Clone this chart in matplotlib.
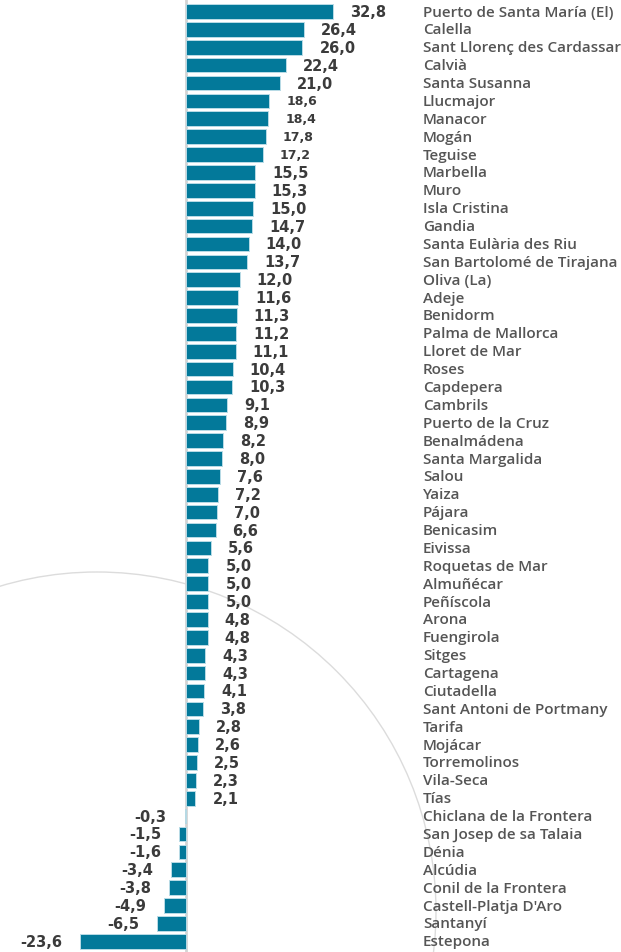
"""Horizontal bar chart: change by municipality."""

import matplotlib
matplotlib.use("Agg")
import matplotlib.pyplot as plt
from matplotlib.patches import Circle
import matplotlib.transforms as mtransforms

municipios = [
    "Puerto de Santa María (El)", "Calella", "Sant Llorenç des Cardassar", "Calvià",
    "Santa Susanna", "Llucmajor", "Manacor", "Mogán", "Teguise", "Marbella", "Muro",
    "Isla Cristina", "Gandia", "Santa Eulària des Riu", "San Bartolomé de Tirajana",
    "Oliva (La)", "Adeje", "Benidorm", "Palma de Mallorca", "Lloret de Mar", "Roses",
    "Capdepera", "Cambrils", "Puerto de la Cruz", "Benalmádena", "Santa Margalida",
    "Salou", "Yaiza", "Pájara", "Benicasim", "Eivissa", "Roquetas de Mar", "Almuñécar",
    "Peñíscola", "Arona", "Fuengirola", "Sitges", "Cartagena", "Ciutadella",
    "Sant Antoni de Portmany", "Tarifa", "Mojácar", "Torremolinos", "Vila-Seca", "Tías",
    "Chiclana de la Frontera", "San Josep de sa Talaia", "Dénia", "Alcúdia",
    "Conil de la Frontera", "Castell-Platja D'Aro", "Santanyí", "Estepona",
]
valores = [
    32.8, 26.4, 26.0, 22.4, 21.0, 18.6, 18.4, 17.8, 17.2, 15.5, 15.3, 15.0, 14.7,
    14.0, 13.7, 12.0, 11.6, 11.3, 11.2, 11.1, 10.4, 10.3, 9.1, 8.9, 8.2, 8.0, 7.6,
    7.2, 7.0, 6.6, 5.6, 5.0, 5.0, 5.0, 4.8, 4.8, 4.3, 4.3, 4.1, 3.8, 2.8, 2.6, 2.5,
    2.3, 2.1, -0.3, -1.5, -1.6, -3.4, -3.8, -4.9, -6.5, -23.6,
]
# labels drawn a bit smaller in the original
small_labels = {"Llucmajor", "Manacor", "Mogán", "Teguise"}

BAR = "#03799a"
VAL = "#3b3b3b"
CAT = "#555555"

fig = plt.figure(figsize=(6.21, 9.53), dpi=100)
ax = fig.add_axes([0, 0, 1, 1])

# decorative background circle
fig.patches.append(Circle((0.97, 0.41), 3.39, transform=fig.dpi_scale_trans,
                          fill=False, edgecolor="#dcdcdc", linewidth=1.0, zorder=-1))

y = list(range(len(valores)))
ax.barh(y, valores, height=0.82, color=BAR, edgecolor="#b9dbe6", linewidth=0.7, zorder=2)
ax.axvline(0, color="#d4d4d4", linewidth=2, zorder=1)

px = 1 / 4.48  # data units per pixel
ax.set_xlim(-186 * px, (621 - 186) * px)
ax.set_ylim(52.6, -0.7)
ax.axis("off")

trans = mtransforms.blended_transform_factory(ax.transAxes, ax.transData)
for i, (name, v) in enumerate(zip(municipios, valores)):
    txt = f"{v:.1f}".replace(".", ",")
    fs = 9 if name in small_labels else 10.5
    if v >= 0:
        ax.text(v + 17 * px, i, txt, ha="left", va="center", fontsize=fs,
                fontweight="bold", color=VAL)
    else:
        ax.text(v - 18 * px, i, txt, ha="right", va="center", fontsize=fs,
                fontweight="bold", color=VAL)
    ax.text(423 / 621, i, name, transform=trans, ha="left", va="center",
            fontsize=11, fontweight="semibold", family="Open Sans", color=CAT)

fig.savefig("out.png", dpi=100)
plt.close(fig)
